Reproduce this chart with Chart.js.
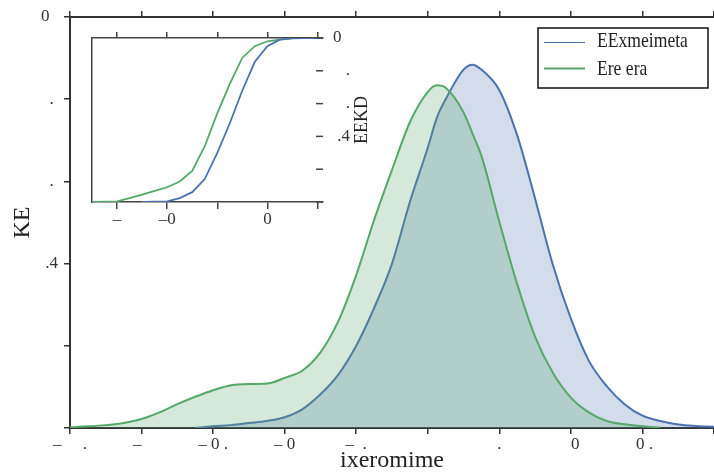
<!DOCTYPE html>
<html>
<head>
<meta charset="utf-8">
<script src="https://cdn.jsdelivr.net/npm/chart.js@4"></script>
<style>
    html, body { margin: 0; padding: 0; background: #fff; }
    #quadro { position: relative; width: 714px; height: 476px; }
    #quadro canvas { position: absolute; left: 0; top: 0; }
    #grafico-inset { pointer-events: none; }
</style>
</head>
<body>
<div id="quadro">
    <canvas id="grafico-principal" width="714" height="476"></canvas>
    <canvas id="grafico-inset" width="714" height="476"></canvas>
</div>
<script>
// dados do grafico principal (densidade)
const xPrincipal = [0, 0.25, 0.5, 0.75, 1, 1.25, 1.5, 1.75, 2, 2.25, 2.5, 2.75, 3, 3.25, 3.5, 3.75, 4, 4.25, 4.5,
    4.75, 5, 5.125, 5.25, 5.5, 5.625, 5.75, 6, 6.25, 6.5, 6.75, 7, 7.25, 7.5, 7.75, 8, 8.25, 8.5, 8.75, 9];
const densidadeAzul = [null, null, null, null, null, null, null, 0.0, 0.02, 0.035, 0.06, 0.085, 0.13, 0.23, 0.41,
    0.65, 1.00, 1.46, 2.00, 2.75, 3.41, 3.77, 4.00, 4.36, 4.42, 4.36, 4.11, 3.56, 2.79, 1.98, 1.33, 0.82, 0.51,
    0.29, 0.15, 0.085, 0.043, 0.025, 0.015];
const densidadeVerde = [0.01, 0.02, 0.035, 0.06, 0.11, 0.19, 0.29, 0.38, 0.46, 0.52, 0.535, 0.54, 0.61, 0.70, 0.92,
    1.30, 1.86, 2.53, 3.14, 3.72, 4.09, 4.17, 4.14, 3.84, 3.58, 3.31, 2.51, 1.75, 1.11, 0.67, 0.37, 0.19, 0.085,
    0.045, 0.02, 0.006, null, null, null];
const rotulosXPrincipal = ['\u2013     .', '\u2013  ', '\u2013 0 .', '\u2013 0', '\u2013  .', '', '.', '  0', ' 0 .', ''];
const rotulosYPrincipal = ['', '', '.4', '. ', '. ', '0  '];
const nomesSeries = ['EExmeimeta', 'Ere era'];

// dados do grafico inserido (acumulada)
const xInset = [-0.5, -0.25, 0, 0.25, 0.5, 0.75, 1, 1.25, 1.5, 1.75, 2, 2.25, 2.5, 2.75, 3, 3.25, 3.5, 3.75, 4, 4.11];
const acumuladaAzul = [null, null, null, null, 0.0, 0.002, 0.004, 0.024, 0.06, 0.14, 0.30, 0.48, 0.68, 0.855, 0.95,
    0.99, 0.998, 1.0, 1.0, 1.0];
const acumuladaVerde = [0.0, 0.002, 0.004, 0.024, 0.045, 0.068, 0.09, 0.125, 0.19, 0.34, 0.54, 0.72, 0.88, 0.95,
    0.98, 0.99, 1.0, 1.0, 1.0, 1.0];
const rotulosXInset = ['\u2013', '\u20130', '', '0', ''];
const rotulosYInset = ['', '', ' .4', '   .', '   .', '0'];
const tituloInset = 'EEKD';

const corAzul = '#4C72B0';
const corVerde = '#55A868';
const corEixo = '#333';
const fonteSerif = "'Liberation Serif', 'Times New Roman', serif";

function pontos(xs, ys) {
    return xs.map((x, i) => ({ x: x, y: ys[i] }));
}

const pluginLegenda = {
    id: 'legendaCaixa',
    afterDraw(chart) {
        const { ctx, chartArea } = chart;
        const direita = chartArea.right - 6;
        const topo = chartArea.top + 11;
        const largura = 170;
        const altura = 60;
        const esquerda = direita - largura;
        ctx.save();
        ctx.fillStyle = '#fff';
        ctx.fillRect(esquerda, topo, largura, altura);
        ctx.strokeStyle = '#111';
        ctx.lineWidth = 1.5;
        ctx.strokeRect(esquerda, topo, largura, altura);
        const cores = [corAzul, corVerde];
        const espessuras = [1, 2];
        const linhasY = [topo + 14.5, topo + 40.5];
        const basesTexto = [topo + 19, topo + 47];
        for (let i = 0; i < 2; i++) {
            ctx.strokeStyle = cores[i];
            ctx.lineWidth = espessuras[i];
            ctx.beginPath();
            ctx.moveTo(esquerda + 6, linhasY[i]);
            ctx.lineTo(esquerda + 47, linhasY[i]);
            ctx.stroke();
            ctx.save();
            ctx.translate(esquerda + 59, basesTexto[i]);
            ctx.scale(0.8, 1);
            ctx.fillStyle = '#222';
            ctx.font = '22px ' + fonteSerif;
            ctx.textBaseline = 'alphabetic';
            ctx.fillText(nomesSeries[i], 0, 0);
            ctx.restore();
        }
        ctx.restore();
    }
};

const pluginInset = {
    id: 'extrasInset',
    afterDraw(chart) {
        const { ctx, chartArea } = chart;
        const escala = chart.scales.y2;
        ctx.save();
        ctx.strokeStyle = '#444';
        ctx.lineWidth = 1.5;
        escala.ticks.forEach(t => {
            const py = escala.getPixelForValue(t.value);
            ctx.beginPath();
            ctx.moveTo(chartArea.right - 7, py);
            ctx.lineTo(chartArea.right, py);
            ctx.stroke();
        });
        ctx.translate(chartArea.right + 39, (chartArea.top + chartArea.bottom) / 2);
        ctx.rotate(-Math.PI / 2);
        ctx.fillStyle = '#222';
        ctx.font = '18px ' + fonteSerif;
        ctx.textAlign = 'center';
        ctx.textBaseline = 'middle';
        ctx.fillText(tituloInset, 0, 0);
        ctx.restore();
    }
};

const fonteTicks = { family: fonteSerif, size: 17 };

const graficoPrincipal = new Chart(document.getElementById('grafico-principal').getContext('2d'), {
    type: 'line',
    data: {
        datasets: [{
            label: nomesSeries[0],
            data: pontos(xPrincipal, densidadeAzul),
            borderColor: corAzul,
            backgroundColor: 'rgba(76, 114, 176, 0.25)',
            borderWidth: 2,
            fill: 'origin',
            cubicInterpolationMode: 'monotone',
            pointRadius: 0,
            order: 1
        }, {
            label: nomesSeries[1],
            data: pontos(xPrincipal, densidadeVerde),
            borderColor: corVerde,
            backgroundColor: 'rgba(85, 168, 104, 0.25)',
            borderWidth: 2,
            fill: 'origin',
            cubicInterpolationMode: 'monotone',
            pointRadius: 0,
            order: 0
        }]
    },
    options: {
        responsive: false,
        animation: false,
        layout: { padding: 0 },
        scales: {
            x: {
                type: 'linear', position: 'bottom', min: 0, max: 9,
                afterBuildTicks: s => { s.ticks = [0, 1, 2, 3, 4, 5, 6, 7, 8, 9].map(v => ({ value: v })); },
                afterFit: s => { s.height = 48; },
                ticks: {
                    autoSkip: false, maxRotation: 0, padding: 0, color: '#333', font: fonteTicks,
                    callback: (v) => rotulosXPrincipal[v] ?? ''
                },
                grid: { drawOnChartArea: false, tickLength: 6, color: corEixo, lineWidth: 1.5 },
                border: { color: corEixo, width: 2 },
                title: { display: true, text: 'ixeromime', color: '#222', font: { family: fonteSerif, size: 24 }, padding: { top: 0, bottom: 1 } }
            },
            x2: {
                type: 'linear', position: 'top', min: 0, max: 9,
                afterBuildTicks: s => { s.ticks = [0, 1, 2, 3, 4, 5, 6, 7, 8, 9].map(v => ({ value: v })); },
                afterFit: s => { s.height = 17; },
                ticks: { display: false },
                grid: { drawOnChartArea: false, tickLength: 6, color: corEixo, lineWidth: 1.5 },
                border: { color: corEixo, width: 2 }
            },
            y: {
                type: 'linear', position: 'left', min: 0, max: 5,
                afterBuildTicks: s => { s.ticks = [0, 1, 2, 3, 4, 5].map(v => ({ value: v })); },
                afterFit: s => { s.width = 70; },
                ticks: {
                    padding: 6, color: '#333', font: fonteTicks,
                    callback: (v) => rotulosYPrincipal[v] ?? ''
                },
                grid: { drawOnChartArea: false, tickLength: 6, color: corEixo, lineWidth: 1.5 },
                border: { color: corEixo, width: 2 },
                title: { display: true, text: 'KE', color: '#222', font: { family: fonteSerif, size: 24 }, padding: { top: 8, bottom: 0 } }
            }
        },
        plugins: {
            legend: { display: false },
            tooltip: { enabled: false }
        }
    },
    plugins: [pluginLegenda]
});

const graficoInset = new Chart(document.getElementById('grafico-inset').getContext('2d'), {
    type: 'line',
    data: {
        datasets: [{
            label: nomesSeries[0],
            data: pontos(xInset, acumuladaAzul),
            borderColor: corAzul,
            borderWidth: 1.8,
            fill: false,
            tension: 0,
            pointRadius: 0
        }, {
            label: nomesSeries[1],
            data: pontos(xInset, acumuladaVerde),
            borderColor: corVerde,
            borderWidth: 1.8,
            fill: false,
            tension: 0,
            pointRadius: 0
        }]
    },
    options: {
        responsive: false,
        animation: false,
        layout: { padding: { left: 92, top: 30, right: 341, bottom: 244 } },
        scales: {
            x: {
                type: 'linear', position: 'bottom', min: -0.5, max: 4.11,
                afterBuildTicks: s => { s.ticks = [0, 1, 2, 3, 4].map(v => ({ value: v })); },
                afterFit: s => { s.height = 30; },
                ticks: {
                    autoSkip: false, maxRotation: 0, padding: 0, color: '#333', font: fonteTicks,
                    callback: (v) => rotulosXInset[v] ?? ''
                },
                grid: { drawOnChartArea: false, tickLength: 7, color: '#444', lineWidth: 1.5 },
                border: { color: '#444', width: 1.5 }
            },
            x2: {
                type: 'linear', position: 'top', min: -0.5, max: 4.11,
                afterBuildTicks: s => { s.ticks = [0, 1, 2, 3, 4].map(v => ({ value: v })); },
                afterFit: s => { s.height = 8; },
                ticks: { display: false },
                grid: { drawOnChartArea: false, tickLength: 6, color: '#444', lineWidth: 1.5 },
                border: { color: '#444', width: 1.5 }
            },
            y: {
                type: 'linear', position: 'left', min: 0, max: 1,
                afterFit: s => { s.width = 0; },
                ticks: { display: false },
                grid: { drawOnChartArea: false, drawTicks: false },
                border: { color: '#444', width: 1.5 }
            },
            y2: {
                type: 'linear', position: 'right', min: 0, max: 1,
                afterBuildTicks: s => { s.ticks = [0, 0.2, 0.4, 0.6, 0.8, 1].map(v => ({ value: v })); },
                afterFit: s => { s.width = 50; },
                ticks: {
                    padding: 10, color: '#333', font: fonteTicks,
                    callback: (v, i) => rotulosYInset[i] ?? ''
                },
                grid: { drawOnChartArea: false, drawTicks: false },
                border: { display: false }
            }
        },
        plugins: {
            legend: { display: false },
            tooltip: { enabled: false }
        }
    },
    plugins: [pluginInset]
});
</script>
</body>
</html>
